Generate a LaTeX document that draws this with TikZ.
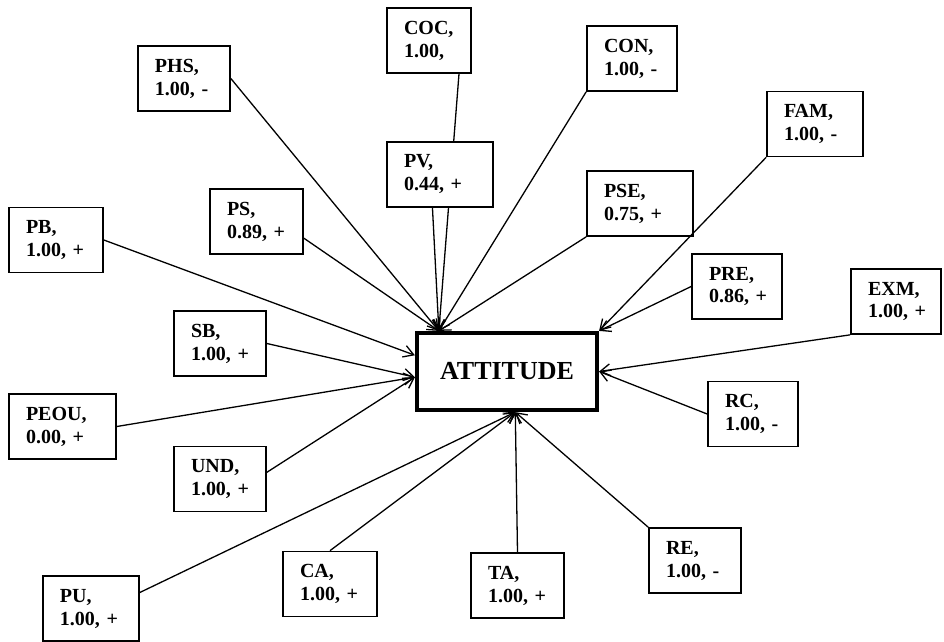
\documentclass[tikz,border=0pt]{standalone}
\usepackage{fontspec}
\setmainfont{Liberation Serif}
\usetikzlibrary{arrows.meta, calc, backgrounds}

\begin{document}
\begin{tikzpicture}[x=0.5pt, y=-0.5pt,
        fac/.style={draw, fill=white, line width=0.85pt, align=left, inner xsep=8.5pt, inner ysep=0pt,
          minimum height=32.5pt, text width=#1, font=\fontsize{10}{11.5}\selectfont\bfseries},
        fac/.default=29pt,
        att/.style={draw, fill=white, line width=2.1pt, minimum width=90pt, minimum height=38.5pt,
          font=\fontsize{13}{15}\selectfont\bfseries},
        conn/.style={line width=0.65pt, -{Straight Barb[length=5pt, width=6pt]}}
      ]
        \useasboundingbox (0,0) rectangle (944,642);
        % centre
        \node[att] (att) at (507, 371.5) {ATTITUDE};
        \coordinate (hubN) at ($(att.north west)!0.13!(att.north east)$);
        \coordinate (hubS) at ($(att.south west)!0.545!(att.south east)$);
        \coordinate (hubW) at ($(att.north west)!0.3!(att.south west)$);
        \coordinate (hubL) at ($(att.north west)!0.57!(att.south west)$);
        % factors
        \node[fac=25pt] (coc) at (429, 40.5) {COC,\\1.00,};
        \node[fac] (phs) at (184, 78.5) {PHS,\\1.00,~-};
        \node[fac=36pt] (pv) at (440, 174.5) {PV,\\0.44,~+};
        \node[fac=28pt] (con) at (632, 58.5) {CON,\\1.00,~-};
        \node[fac=31pt] (fam) at (815, 124) {FAM,\\1.00,~-};
        \node[fac=36pt] (pse) at (640, 203.5) {PSE,\\0.75,~+};
        \node[fac=29.5pt] (ps) at (256.5, 221.5) {PS,\\0.89,~+};
        \node[fac=30pt] (pb) at (56, 240) {PB,\\1.00,~+};
        \node[fac] (sb) at (220, 343.5) {SB,\\1.00,~+};
        \node[fac=36.5pt] (peou) at (62.5, 426.5) {PEOU,\\0.00,~+};
        \node[fac] (und) at (220, 479) {UND,\\1.00,~+};
        \node[fac=31pt] (pu) at (91, 608.5) {PU,\\1.00,~+};
        \node[fac=30pt] (ca) at (330, 584) {CA,\\1.00,~+};
        \node[fac=29.5pt] (ta) at (517.5, 585.5) {TA,\\1.00,~+};
        \node[fac] (re) at (695, 560.5) {RE,\\1.00,~-};
        \node[fac=28pt] (rc) at (753, 414) {RC,\\1.00,~-};
        \node[fac=28pt] (pre) at (737, 286.5) {PRE,\\0.86,~+};
        \node[fac=28pt] (exm) at (896, 301.5) {EXM,\\1.00,~+};
        % links
        \begin{scope}[on background layer]
          \draw[conn] ($(coc.south)!0.7!(coc.south east)$) -- (hubN);
        \end{scope}
        \draw[conn] (phs.east) -- (hubN);
        \draw[conn] ($(pv.south west)!0.43!(pv.south east)$) -- (hubN);
        \draw[conn] ($(ps.north east)!0.75!(ps.south east)$) -- (hubN);
        \draw[conn] (con.south west) -- (hubN);
        \draw[conn] (pse.south west) -- (hubN);
        \draw[conn] (fam.south west) -- (att.north east);
        \draw[conn] (pre.west) -- (att.north east);
        \draw[conn] (exm.south west) -- (att.east);
        \draw[conn] (rc.west) -- (att.east);
        \draw[conn] (re.north west) -- (hubS);
        \draw[conn] (ta.north) -- (hubS);
        \draw[conn] (ca.north) -- (hubS);
        \draw[conn] ($(pu.north east)!0.26!(pu.south east)$) -- (hubS);
        \draw[conn] (pb.east) -- (hubW);
        \draw[conn] (sb.east) -- (hubL);
        \draw[conn] (peou.east) -- (hubL);
        \draw[conn] ($(und.north east)!0.4!(und.south east)$) -- (hubL);
      \end{tikzpicture}
\end{document}
